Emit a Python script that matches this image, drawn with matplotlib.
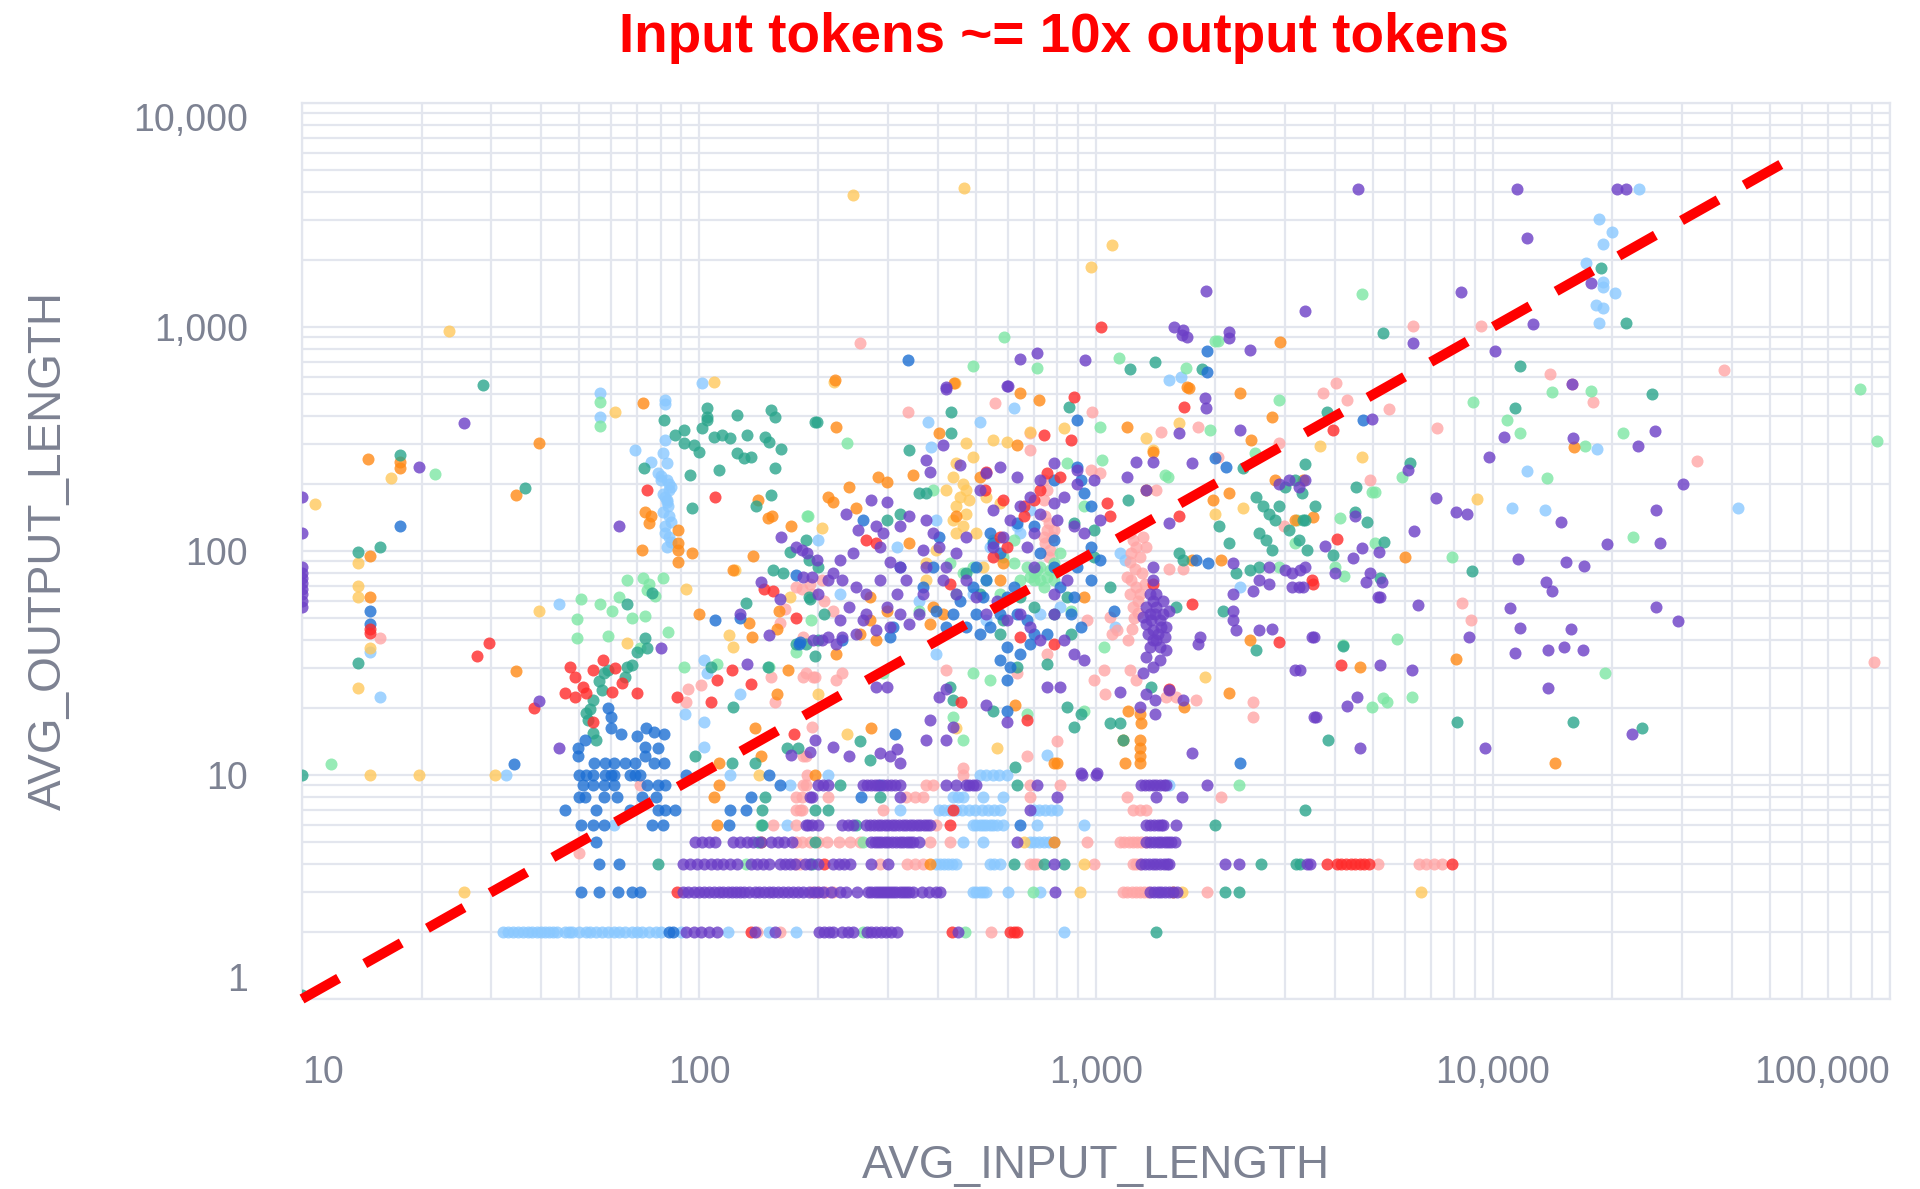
import matplotlib
matplotlib.use("Agg")
import matplotlib.pyplot as plt
from matplotlib.ticker import LogLocator, NullFormatter

# points: (avg input length, avg output length) per colour group
# *_rows hold the integer-output rows: (output, [inputs])

purple_pts = [
    (10, 175), (10, 120), (10, 85), (10, 80), (10, 76), (10, 72), (10, 68), (10, 64), (10, 60), (10, 56),
    (19.7, 237), (25.6, 373), (63, 129), (39.5, 21.4), (44.5, 13.2), (80, 37), (161, 116),
    (176, 104), (187, 97.5), (198, 91), (143, 72.5), (160, 61), (183, 76.5), (127, 52.5), (132, 31.4),
    (150, 42), (194, 40), (171, 12.3), (190, 12.7),
    (419, 527), (596, 545), (1880, 480), (1898, 433), (373, 255), (381, 226), (412, 297), (454, 242),
    (272, 169), (297, 166), (280, 129), (291, 120), (286, 104), (251, 124), (234, 147), (245, 97.5),
    (226, 91), (217, 79.5), (229, 74), (248, 69), (264, 64.5), (286, 74), (302, 89.5), (320, 85),
    (333, 74), (315, 64.5), (297, 56), (264, 52.5), (239, 56), (226, 49), (211, 41.5), (204, 40),
    (221, 38.6), (229, 41.5), (248, 42.8), (259, 49), (280, 44.3), (302, 45.8), (320, 52.5), (339, 47.3),
    (359, 52.5), (366, 64.5), (373, 85), (366, 101), (388, 120), (403, 104), (419, 85), (412, 74),
    (445, 64.5), (471, 74), (500, 62), (529, 52.5), (562, 60), (596, 49), (645, 52.5), (683, 45.8),
    (724, 40), (783, 52.5), (830, 40), (880, 34.8), (931, 32.5), (846, 74), (783, 64.5), (697, 85),
    (670, 104), (697, 120), (724, 147), (783, 163), (830, 175), (896, 200), (988, 207), (896, 230),
    (783, 246), (724, 207), (632, 214), (573, 238), (529, 222), (510, 187), (551, 152), (607, 138),
    (645, 158), (683, 175), (798, 138), (880, 129), (931, 120), (1025, 138), (584, 116), (551, 104),
    (445, 97.5), (471, 116), (373, 138), (339, 143), (320, 129), (211, 74), (200, 64.5), (193, 76.5),
    (182, 101), (1316, 28.4), (1340, 23.1), (1410, 21.6), (1290, 20.1), (1532, 23.9), (1655, 21.6),
    (1825, 41.5), (1805, 38.6), (2215, 54), (2215, 49), (2258, 44.3), (2580, 44.3), (2780, 45),
    (3180, 29.4), (3500, 41.5), (3540, 18.2), (2215, 64.5), (2480, 66.5), (2580, 74), (2730, 85),
    (3000, 82), (3120, 69), (3240, 69), (2215, 88), (1532, 133), (1340, 187), (1195, 214), (1265, 250),
    (1394, 250), (1622, 335), (1750, 246), (2302, 347), (2890, 200), (3060, 207), (3240, 194),
    (3370, 207), (1340, 33.6), (1394, 30.4), (1448, 32.5), (1503, 36), (3120, 79.5), (3370, 85),
    (2730, 71), (381, 17.6), (419, 14.3), (373, 14.3), (437, 16.4), (596, 17.3), (286, 12.5),
    (302, 12.1), (315, 13), (320, 11.3), (196, 14.3), (217, 13.4), (239, 12.1), (1750, 12.5),
    (915, 10.2), (1006, 10.2), (280, 24.7), (297, 24.7), (403, 22.3), (419, 24.3), (529, 20.5),
    (753, 24.7), (814, 24.7), (1150, 23.5), (1410, 18.8),
    (1394, 85), (1394, 74), (1367, 64.5), (1420, 56), (1367, 52.5), (1448, 49), (1340, 47.3),
    (1394, 44.3), (1475, 52.5), (1503, 45.8), (1420, 40), (1367, 37.3), (1448, 37.3), (1340, 56),
    (1394, 60), (1475, 60), (1532, 54), (1316, 50.5), (1420, 64.5), (1435, 42.8), (1380, 49),
    (1410, 52.5), (1460, 45.8), (1355, 42.8), (1394, 40), (1490, 41.5),
    (4950, 387), (15850, 557), (15880, 318), (10690, 322), (9790, 262), (23230, 294), (25600, 344),
    (30040, 200), (6120, 230), (7190, 173), (8070, 149), (8590, 147), (6340, 123), (4490, 143),
    (3780, 105), (4670, 103), (4430, 93), (5180, 99), (3266, 82), (4000, 79.5), (4900, 80),
    (4780, 72.5), (5250, 72.5), (3320, 69), (5200, 62), (5150, 62), (6490, 57.5), (11040, 55.5),
    (11700, 45.3), (8720, 41.5), (3540, 41.5), (5200, 30.9), (6240, 29.3), (3266, 29.3), (4540, 22.3),
    (4280, 20.3), (3580, 18.2), (9550, 13.2), (4620, 13.2), (13790, 24.4), (11370, 35), (13790, 36.3),
    (15130, 37.3), (16820, 36.3), (15700, 44.7), (25740, 56.5), (29300, 48.5), (13580, 72.5),
    (14070, 66.5), (11540, 92), (15280, 89), (16990, 86), (19340, 107), (25740, 152), (26360, 108),
    (14830, 135), (22440, 15.3),
    (4570, 4130), (11500, 4130), (20500, 4130), (21600, 4130), (12200, 2500), (17700, 1570),
    (12600, 1030), (8300, 1430), (3360, 1180), (1890, 1450), (6280, 850), (10100, 780), (2160, 950),
    (2160, 890), (2440, 790), (1570, 1000), (1660, 970), (1650, 920), (1700, 900), (645, 716),
    (710, 767), (938, 710), (420, 537), (600, 547),
]
purple_rows = [
    (2, [93, 97, 101, 106, 111, 138, 155, 201, 207, 213, 218, 229, 237, 245, 265, 272, 280, 288, 296,
         305, 315, 450]),
    (3, [91, 94, 97, 100, 103, 106, 109, 112, 115, 118, 121, 124, 127, 130, 134, 138, 142, 146, 150,
         154, 158, 163, 168, 173, 178, 183, 189, 195, 200, 205, 215, 227, 235, 250, 267, 272, 277, 282,
         287, 292, 297, 302, 308, 314, 320, 326, 332, 339, 346, 365, 380, 395, 404, 788, 1370, 1400,
         1430, 1460, 1490, 1530, 1560, 1600]),
    (4, [91, 95, 99, 103, 107, 111, 115, 120, 125, 135, 140, 145, 150, 160, 165, 170, 175, 185, 190,
         200, 218, 225, 232, 240, 272, 300, 783, 1300, 1330, 1360, 1390, 1420, 1450, 1480, 1510, 1530,
         2115, 2290, 3400, 3470]),
    (5, [98, 102, 106, 110, 122, 127, 132, 137, 143, 152, 158, 164, 172, 272, 277, 282, 288, 294, 300,
         306, 313, 320, 327, 334, 341, 346, 359, 632, 1340, 1370, 1400, 1430, 1460, 1490, 1520, 1550,
         1580]),
    (6, [186, 188, 193, 200, 229, 237, 245, 264, 270, 276, 282, 288, 294, 300, 306, 312, 319, 326, 333,
         340, 347, 354, 361, 368, 375, 381, 1340, 1370, 1400, 1430, 1460, 1475, 1590]),
    (7, [683]),
    (8, [190, 193, 320, 798, 1420, 1650]),
    (9, [200, 205, 211, 259, 265, 271, 277, 283, 290, 297, 304, 312, 320, 419, 445, 471, 480, 490, 500,
         711, 1300, 1330, 1360, 1390, 1420, 1450, 1480, 1500, 1900]),
    (10, [920, 1000]),
]

teal_pts = [
    (10, 10), (10, 1.04), (17.7, 268), (28.6, 550), (36.5, 191), (15.7, 104), (13.8, 99), (13.8, 31.6),
    (87, 329), (91.5, 347), (91.5, 303), (97, 297), (100, 278), (102, 353), (105, 397), (105, 384),
    (105, 433), (109, 324), (114, 329), (120, 318), (125, 404), (125, 273), (130, 260), (135, 263),
    (132, 329), (147, 324), (150, 308), (152, 426), (155, 397), (161, 286), (155, 234), (112, 231),
    (95, 219), (72.5, 234), (96, 155), (139, 159), (152, 178), (196, 377), (81.5, 386),
    (73, 41), (74, 37), (70, 35.5), (66, 30.5), (68, 31), (65, 27.3), (76, 65), (66, 58),
    (56, 26.4), (57, 24), (54, 21.6), (53, 19.8), (52, 18.9), (52.5, 17.6), (54, 15.4), (55, 14.3),
    (57.5, 28.5), (59, 29.4),
    (170, 99), (154, 82), (163, 79.5), (131, 58.5), (190, 61), (176, 38.6), (196, 34), (149, 30.4),
    (107, 30.4), (122, 20.1), (138, 11.3), (167, 13.2), (178, 13.2), (98, 12.1), (121, 11.3),
    (198, 377), (339, 282), (432, 418), (432, 335), (855, 441), (1205, 169), (2350, 234), (2530, 175),
    (2630, 158), (2730, 147), (2830, 138), (2580, 120), (2680, 112), (3060, 124), (3240, 112),
    (3370, 138), (2040, 129), (2170, 108), (2580, 85), (2780, 101), (2890, 158), (3000, 194),
    (3180, 207), (3300, 181), (2090, 54), (2258, 79.5), (2440, 82), (2530, 36), (1590, 56),
    (1622, 97.5), (1655, 91), (359, 181), (320, 147), (186, 112), (189, 91), (200, 85), (189, 62),
    (207, 52.5), (186, 38.6), (200, 40), (428, 24.7), (437, 21.6), (551, 19.4), (697, 56), (783, 52.5),
    (846, 62), (863, 42.8), (753, 31.4), (846, 20.1), (880, 16.4), (915, 18.8), (1086, 17), (1172, 14.3),
    (1150, 17), (1380, 24.7), (988, 94), (1086, 69), (988, 124), (880, 133), (373, 181), (297, 138),
    (632, 30.4), (573, 42.8), (471, 79.5), (510, 64.5), (645, 62), (584, 49), (254, 14.2), (270, 11.7),
    (626, 10.9),
    (3830, 419), (3360, 244), (6200, 248), (4520, 194), (3560, 158), (3330, 138), (4490, 150),
    (4820, 135), (5310, 110), (3410, 101), (3950, 96), (5200, 76), (8840, 81), (11370, 433),
    (25200, 501), (4200, 37.6), (8100, 17.2), (15880, 17.2), (23690, 16.2), (3850, 14.4),
    (18700, 1830), (21700, 1040), (5300, 940), (11700, 670), (1220, 647), (1410, 700), (1850, 647),
]
teal_rows = [
    (2, [1420]), (3, [2115, 2290]), (4, [79, 193, 620, 739, 830, 2600, 3200, 3270]), (5, [141, 196]),
    (6, [144, 248, 2000]), (7, [144, 196, 211, 3360]), (8, [147, 286]), (9, [226, 632]),
]

lgreen_pts = [
    (11.8, 11.2), (21.6, 221),
    (50.5, 61), (56.4, 58), (60.4, 54), (49.3, 49.5), (49.3, 41), (59, 41.7), (66, 74), (72.3, 76),
    (75, 71), (77.5, 63), (81, 76), (68, 50), (73, 51.5), (63, 62), (74, 67), (83.5, 43.5), (71, 37),
    (56.4, 463), (56.4, 361),
    (188, 143), (111, 31.4), (91.5, 30.4), (150, 30.4), (176, 35.3), (192, 49),
    (187, 143), (236, 303), (1025, 359), (846, 246), (1035, 255), (1490, 219), (1518, 214), (2890, 472),
    (1940, 347), (2510, 273), (2890, 85), (3210, 138), (3180, 108), (388, 187), (428, 88), (463, 79.5),
    (490, 85), (529, 74), (573, 64.5), (620, 88), (697, 79.5), (724, 85), (753, 76.5), (783, 74),
    (739, 69), (697, 74), (670, 85), (783, 88), (814, 97.5), (645, 74), (931, 158), (1045, 37.3),
    (620, 112), (584, 94), (551, 112), (445, 64.5), (490, 28.4), (540, 26.5), (437, 18.2), (931, 19.4),
    (670, 18.8), (463, 14.3), (863, 54), (359, 54), (291, 28.4), (711, 82), (683, 76.5), (768, 82),
    (724, 74),
    (8900, 464), (14110, 510), (17630, 518), (10830, 384), (11700, 338), (17060, 295), (21220, 338),
    (13710, 212), (5910, 213), (4950, 183), (5050, 183), (4120, 141), (5050, 109), (7870, 94),
    (22570, 116), (4000, 85), (4220, 77), (5750, 40.5), (4200, 38), (19170, 28.4), (6240, 22.3),
    (5300, 22), (4950, 20.1), (5400, 21.1),
    (4680, 1400), (84000, 528), (92700, 310), (2030, 870), (588, 900), (490, 670), (710, 653),
    (1140, 730), (1690, 658), (2000, 865),
]
lgreen_rows = [(2, [259, 468]), (3, [694]), (4, [131]), (5, [259]), (6, [143]), (9, [2290])]

lblue_pts = [
    (15.7, 22.3), (14.8, 35.3), (32.7, 10), (44.4, 58),
    (56.4, 505), (56.4, 397), (82, 472), (82, 452), (69, 282), (75.5, 250),
    (82, 313), (81, 273), (83, 246), (79, 222), (80, 207), (83, 207), (84, 187), (82, 175), (83.5, 158),
    (84, 143), (82, 129), (84, 116), (83, 104), (80, 216), (85, 194), (83, 169), (81, 150), (85, 135),
    (84, 200), (81, 180), (83, 165), (82, 120), (85, 110),
    (103, 32.5), (105, 28.4), (127, 23.1), (103, 17.3), (103, 13.4), (92, 18.8),
    (510, 377), (377, 377), (620, 433), (385, 292), (395, 138), (315, 104), (200, 112), (226, 64.5),
    (359, 60), (490, 64.5), (529, 49), (395, 34.8), (540, 104), (632, 129), (683, 152), (1150, 97.5),
    (1120, 45.8), (1183, 91), (2302, 69), (753, 12.3), (1532, 580), (814, 56), (724, 52.5), (645, 120),
    (18250, 285), (12160, 228), (11190, 156), (13520, 152), (41500, 156),
    (23400, 4130), (18500, 3030), (19900, 2660), (18900, 2350), (17200, 1930), (18900, 1590),
    (18900, 1510), (20300, 1420), (18200, 1250), (18900, 1215), (18500, 1040),
    (1640, 595), (102, 562),
]
lblue_rows = [
    (2, [32, 33, 34, 35, 36, 37, 38, 39, 40, 41, 42, 43, 44, 46, 47, 48, 50, 52, 53, 55, 57, 59, 61, 63,
         65, 68, 70, 72, 75, 78, 80, 90, 118, 150, 176, 830]),
    (3, [490, 500, 510, 520, 530, 600, 722]),
    (4, [395, 405, 415, 425, 435, 445, 540, 555, 573]),
    (5, [463, 520, 683, 700, 720, 740, 760, 783]),
    (6, [61, 167, 490, 500, 510, 520, 530, 540, 550, 562, 584, 711, 931]),
    (7, [320, 403, 415, 428, 445, 460, 478, 495, 515, 535, 555, 573, 697, 720, 745, 770, 798]),
    (8, [437, 450, 463, 520, 584]),
    (9, [170, 1532]),
    (10, [120, 211, 510, 530, 550, 570, 596]),
]

blue_pts = [
    (17.7, 129), (34.2, 11.2),
    (59, 20), (60, 18.2), (60, 16.2), (63.5, 15.3), (70, 15), (73.5, 16.2), (77, 15.6), (81.5, 15.3),
    (79, 13.2), (51.5, 14.4), (49.5, 13.2), (49.5, 12.1), (54.5, 11.3), (58, 11.3), (61, 11.3),
    (65, 11.3), (69, 11.3), (73, 12.1), (77, 11.3), (81.5, 11.3), (73, 13.4),
    (14.8, 54), (14.8, 47),
    (110, 49), (127, 50), (176, 78), (180, 39.3),
    (896, 384), (1990, 260), (2130, 238), (551, 108), (573, 97.5), (500, 85), (529, 74), (490, 69),
    (520, 62), (500, 52.5), (471, 45.8), (510, 42.8), (540, 45.8), (573, 52.5), (596, 62), (620, 69),
    (632, 52.5), (670, 49), (697, 42.8), (596, 37.3), (573, 32.5), (607, 30.4), (596, 26.5), (645, 34.8),
    (683, 38.6), (753, 42.8), (863, 52.5), (915, 45.8), (880, 62), (814, 69), (783, 85), (896, 85),
    (969, 104), (969, 74), (1025, 91), (1108, 54), (783, 112), (724, 97.5), (697, 129), (632, 133),
    (540, 120), (454, 60), (437, 52.5), (419, 45.8), (395, 54), (366, 69), (320, 85), (308, 45.8),
    (302, 41.5), (403, 116), (388, 85), (259, 138), (229, 40), (179, 38.6), (1915, 88), (1785, 91),
    (596, 19.4), (311, 15.3), (2302, 11.3), (896, 238), (931, 181), (969, 158), (915, 207), (783, 207),
    (4710, 384), (1900, 780), (1910, 630), (336, 710),
]
blue_rows = [
    (2, [84, 86]), (3, [50.5, 56, 62.5, 68, 71]), (4, [56, 63]), (5, [55]),
    (6, [50.5, 54, 57.5, 76, 81, 119, 645]), (7, [46, 55, 67, 79, 82, 87, 120, 131]),
    (8, [50, 51.5, 57.5, 62, 72, 78, 135, 256]), (9, [51, 54, 57.5, 61, 74, 79, 82, 160, 286]),
    (10, [50, 52, 54, 58, 60, 61, 67, 69, 71, 93, 150]),
]

orange_pts = [
    (14.7, 257), (17.7, 250), (17.7, 235), (39.5, 303), (34.5, 178), (14.8, 95), (14.8, 62), (34.6, 29),
    (72.2, 456),
    (73, 150), (75.5, 143), (75, 133), (72, 101), (88.7, 124), (88.7, 108), (88.7, 101), (88.7, 89),
    (96, 97.5), (141, 169), (149, 140), (153, 143), (171, 129), (137, 95),
    (122, 82), (100, 52.5), (134, 47.5), (136, 41.5), (157, 45), (159, 54), (168, 29.3), (157, 23.1),
    (143, 12.1), (112, 11.3), (138, 16.2),
    (221, 359), (283, 214), (297, 204), (211, 175), (217, 166), (239, 194), (248, 155), (346, 218),
    (339, 108), (403, 335), (632, 297), (645, 506), (718, 472), (1195, 359), (1340, 187), (1394, 278),
    (1720, 533), (2302, 506), (2780, 397), (2460, 313), (2170, 181), (1970, 169), (1750, 91), (2070, 91),
    (2440, 40), (2830, 207), (3180, 138), (297, 54), (270, 49), (388, 56), (412, 52.5), (381, 47.3),
    (280, 40), (254, 42.8), (221, 34.8), (573, 74), (584, 88), (510, 214), (445, 143), (270, 62),
    (931, 62), (1205, 19.4), (1290, 18.8), (1300, 17), (1290, 14.3), (1172, 14.3), (1290, 13.2),
    (1290, 12.1), (1290, 11.3), (1183, 11.3), (2170, 23.3), (1670, 20.1), (272, 16.2), (798, 11.3),
    (783, 11.3), (626, 20.5),
    (3330, 207), (3530, 142), (6000, 94), (16030, 292), (8070, 33), (4620, 30.4), (14330, 11.3),
    (220, 580), (440, 560), (1700, 540), (2910, 860),
]
orange_rows = [(3, [1560]), (4, [381]), (5, [143, 783]), (6, [111]), (8, [109]), (9, [112]), (10, [196])]

yellow_pts = [
    (10.8, 162), (16.8, 212), (13.8, 88), (13.8, 70), (13.8, 62), (14.8, 37), (13.8, 24.5), (23.5, 960),
    (39.5, 54), (61.5, 419), (66, 39),
    (123, 82), (119, 42), (122, 37.3), (93, 68), (170, 62),
    (219, 570), (441, 560), (596, 308), (551, 313), (683, 341), (830, 353), (1340, 318), (1394, 282),
    (1622, 371), (2350, 155), (2000, 147), (437, 214), (463, 200), (471, 187), (454, 175), (480, 169),
    (445, 158), (471, 147), (437, 138), (463, 129), (445, 120), (471, 303), (490, 264), (445, 246),
    (419, 187), (529, 175), (573, 163), (500, 120), (204, 127), (200, 23.1), (236, 15.3), (562, 13.2),
    (445, 16.2), (1880, 27.4), (520, 85), (395, 101), (373, 88), (373, 74),
    (3660, 294), (4690, 264), (9140, 171),
    (245, 3880), (466, 4160), (1100, 2320), (970, 1860), (109, 566),
]
yellow_rows = [(3, [25.6, 910, 1650, 6590]), (4, [931]), (5, [657]), (10, [14.8, 19.7, 30.6, 142])]

pink_pts = [
    (15.7, 41),
    (176, 69), (190, 71), (165, 55), (160, 47.5), (183, 41.5), (152, 27.4), (183, 27.4), (194, 27.4),
    (155, 21.1), (101, 25.1), (94, 24.3), (93, 21.1), (183, 12.1), (50, 4.5),
    (336, 418), (556, 456), (978, 418), (1805, 359), (1460, 341), (683, 282), (683, 335), (739, 207),
    (753, 187), (739, 169), (1420, 187), (2030, 264), (969, 230), (1025, 222), (182, 68), (193, 64.5),
    (204, 74), (217, 54), (207, 60), (186, 28.4), (196, 27.4), (221, 26.5), (229, 28.4), (419, 29.3),
    (632, 28.4), (1045, 29.3), (988, 26.5), (1055, 23.1), (1130, 44.3), (1100, 42.8), (1205, 40),
    (1216, 29.3), (1265, 26.5), (1503, 22.3), (1590, 22.3), (1785, 21.6), (2480, 21.2), (2480, 18.2),
    (2980, 129), (2890, 303), (1532, 83.5), (1655, 83.5), (950, 49), (1086, 50.5), (753, 34.8),
    (798, 14.2), (670, 12.1), (463, 10.7), (193, 16.4), (186, 12.1),
    (746, 143), (760, 133), (753, 124), (775, 116), (746, 108), (768, 101), (760, 94), (783, 124),
    (739, 116),
    (1216, 120), (1240, 112), (1265, 104), (1228, 97.5), (1290, 94), (1216, 89), (1252, 83.5),
    (1303, 79.5), (1228, 74), (1265, 69), (1216, 64.5), (1277, 60), (1240, 56), (1316, 116), (1340, 104),
    (1328, 71.5), (1195, 76.5), (1290, 64.5), (1250, 50), (1230, 45), (1280, 53),
    (4020, 560), (3730, 506), (4280, 472), (5480, 429), (7220, 355), (17900, 464), (4900, 208),
    (8350, 58.5), (8790, 49), (32600, 253),
    (6280, 1010), (9330, 1010), (13900, 617), (38200, 643), (15800, 557), (254, 850), (91000, 32),
]
pink_rows = [
    (2, [140, 160, 545]),
    (3, [193, 200, 208, 218, 1170, 1200, 1230, 1260, 1290, 1320, 1350, 1900]),
    (4, [176, 180, 286, 335, 350, 366, 683, 697, 711, 988, 1240, 1265, 1290, 5150, 6530, 6800, 7100, 7430]),
    (5, [176, 182, 190, 200, 210, 225, 240, 255, 381, 428, 950, 1150, 1180, 1210, 1240, 1270, 1300, 1340]),
    (6, [154, 176, 395]),
    (7, [176, 180, 182, 291, 1240, 1290, 1340]),
    (8, [176, 182, 211, 333, 350, 366, 683, 1195, 2060]),
    (9, [71, 183, 186, 373, 388, 683, 814]),
    (10, [187, 463]),
]

red_pts = [
    (14.8, 45), (14.8, 43), (29.6, 39), (27.6, 34), (38.4, 20),
    (47.3, 30.4), (48.7, 27.3), (54, 29.4), (57.4, 32.6), (51, 24.7), (46, 23.3), (48.7, 22.3), (52, 23.3),
    (60.4, 23.5), (64, 25.7), (70, 23.3), (61.5, 30), (54, 17.2), (74, 187), (110, 175),
    (146, 68), (154, 66.5), (176, 50), (121, 29.3), (111, 26.5), (135, 25.6), (107, 21.1), (88, 22.3),
    (174, 15.3),
    (880, 489), (1670, 441), (863, 313), (739, 329), (814, 214), (753, 222), (529, 226), (524, 187),
    (584, 169), (657, 158), (697, 169), (724, 187), (573, 116), (596, 104), (280, 108), (264, 112),
    (1086, 143), (1065, 163), (1622, 143), (1394, 71.5), (1750, 58), (2890, 39.3), (3500, 74), (645, 41.5),
    (428, 71.5), (783, 38.6), (458, 21.2), (670, 17.6), (1532, 24.3), (551, 94), (657, 143),
    (3960, 347), (4060, 113), (3530, 71), (4140, 30.9),
    (1030, 1000),
]
red_rows = [
    (2, [135, 433, 607, 620, 631]), (3, [88]),
    (4, [207, 3820, 4040, 4150, 4260, 4380, 4500, 4620, 4740, 4860, 7870]),
    (6, [428]), (7, [437]),
]

# reference line: input = 10 x output
line_in = [10, 55000]
ratio = 10

x_ticks = [10, 100, 1000, 10000, 100000]
x_labels = ["10", "100", "1,000", "10,000", "100,000"]
y_ticks = [1, 10, 100, 1000, 10000]
y_labels = ["1", "10", "100", "1,000", "10,000"]


def expand(pts, rows):
    xs = [p[0] for p in pts]
    ys = [p[1] for p in pts]
    for out, ins in rows:
        xs += list(ins)
        ys += [out] * len(ins)
    return xs, ys


plt.rcParams['font.family'] = ['Liberation Sans', 'DejaVu Sans']
grey = '#7d8292'
grid_col = '#e3e6ee'

fig = plt.figure(figsize=(19.2, 11.89), dpi=100)
ax = fig.add_axes([0.1573, 0.1598, 0.827, 0.7536])
ax.set_xscale('log')
ax.set_yscale('log')
ax.set_xlim(10, 100000)
ax.set_ylim(1, 10000)

groups = [
    (lblue_pts, lblue_rows, '#8ac8ff'),
    (pink_pts, pink_rows, '#ffa6a6'),
    (yellow_pts, yellow_rows, '#ffc85c'),
    (lgreen_pts, lgreen_rows, '#7de6a4'),
    (orange_pts, orange_rows, '#ff8a16'),
    (teal_pts, teal_rows, '#2ba58c'),
    (blue_pts, blue_rows, '#1d6fd3'),
    (red_pts, red_rows, '#ff2b2b'),
    (purple_pts, purple_rows, '#6c3fc6'),
]
for pts, rows, col in groups:
    xs, ys = expand(pts, rows)
    ax.scatter(xs, ys, s=75, color=col, alpha=0.8, linewidths=0, zorder=3)

ax.plot(line_in, [v / ratio for v in line_in], color='#ff0000', lw=7.2,
        dashes=(4.2, 3.0), dash_capstyle='butt', zorder=5, clip_on=False)

# grid, major and minor lines look the same
ax.set_axisbelow(True)
ax.grid(which='both', color=grid_col, linewidth=1.6)
for sp in ax.spines.values():
    sp.set_color(grid_col)
    sp.set_linewidth(1.6)
ax.xaxis.set_minor_locator(LogLocator(base=10, subs=range(2, 10)))
ax.yaxis.set_minor_locator(LogLocator(base=10, subs=range(2, 10)))
ax.xaxis.set_minor_formatter(NullFormatter())
ax.yaxis.set_minor_formatter(NullFormatter())

ax.set_xticks(x_ticks)
ax.set_xticklabels(x_labels)
ax.set_yticks(y_ticks)
ax.set_yticklabels(y_labels)
ax.tick_params(which='both', length=0)
ax.tick_params(axis='x', labelsize=27, labelcolor=grey, pad=40)
ax.tick_params(axis='y', labelsize=27, labelcolor=grey, pad=39)
xl = ax.get_xticklabels()
xl[0].set_ha('left')
xl[-1].set_ha('right')
yl = ax.get_yticklabels()
yl[0].set_va('bottom')
yl[-1].set_va('top')

fig.text(0.5708, 0.0093, 'AVG_INPUT_LENGTH', fontsize=33, color=grey, ha='center', va='baseline')
fig.text(0.0255, 0.5366, 'AVG_OUTPUT_LENGTH', fontsize=33, color=grey, rotation=90,
         ha='center', va='center')
fig.text(0.554, 0.956, 'Input tokens ~= 10x output tokens', fontsize=39.5, fontweight='bold',
         color='#ff0000', ha='center', va='baseline')

fig.savefig('out.png', dpi=100)
